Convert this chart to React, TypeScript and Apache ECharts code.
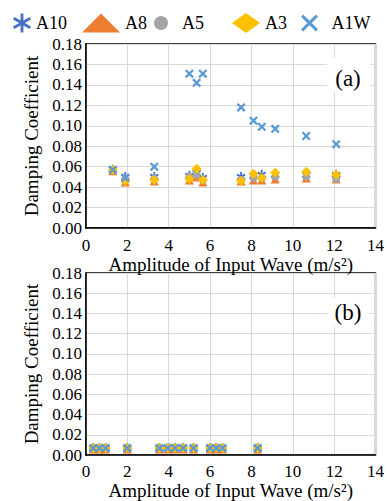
import React, { useEffect, useRef } from "react";
import * as echarts from "echarts";

// ---- data ----
const seriesNames = ["A10", "A8", "A5", "A3", "A1W"];
const seriesColors = ["#4472C4", "#ED7D31", "#A5A5A5", "#FFC000", "#5B9BD5"];

const topX = [1.3, 1.9, 3.3, 5.0, 5.35, 5.65, 7.5, 8.1, 8.5, 9.15, 10.65, 12.1];
const topA10 = [0.057, 0.05, 0.05, 0.051, 0.054, 0.049, 0.05, 0.051, 0.052, 0.052, 0.052, 0.052];
const topA8 = [0.056, 0.045, 0.046, 0.047, 0.05, 0.045, 0.046, 0.047, 0.047, 0.048, 0.049, 0.048];
const topA5 = [0.057, 0.048, 0.048, 0.05, 0.052, 0.047, 0.047, 0.049, 0.049, 0.05, 0.05, 0.048];
const topA3 = [0.057, 0.046, 0.047, 0.048, 0.058, 0.047, 0.046, 0.053, 0.049, 0.054, 0.055, 0.052];
const topA1W = [0.057, 0.049, 0.06, 0.151, 0.142, 0.151, 0.118, 0.105, 0.099, 0.097, 0.09, 0.082];

const bottomX = [0.35, 0.65, 0.95, 2.0, 3.55, 3.95, 4.3, 4.7, 5.2, 6.0, 6.3, 6.6, 8.3];
const bottomA10 = [0.007, 0.007, 0.007, 0.007, 0.007, 0.007, 0.007, 0.007, 0.007, 0.007, 0.007, 0.007, 0.007];
const bottomA8 = [0.006, 0.006, 0.006, 0.006, 0.006, 0.006, 0.006, 0.006, 0.006, 0.006, 0.006, 0.006, 0.006];
const bottomA5 = [0.007, 0.007, 0.007, 0.007, 0.007, 0.007, 0.007, 0.007, 0.007, 0.007, 0.007, 0.007, 0.007];
const bottomA3 = [0.007, 0.007, 0.007, 0.007, 0.007, 0.007, 0.007, 0.007, 0.007, 0.007, 0.007, 0.007, 0.007];
const bottomA1W = [0.007, 0.007, 0.007, 0.007, 0.007, 0.007, 0.007, 0.007, 0.007, 0.007, 0.007, 0.007, 0.007];

const xMin = 0, xMax = 14, xStep = 2;
const yMin = 0, yMax = 0.18, yStep = 0.02;
const xAxisTitle = "Amplitude of Input Wave (m/s²)";
const yAxisTitle = "Damping Coefficient";
const panelLabels = ["(a)", "(b)"];

// ---- symbol helpers ----
function barsPath(angles: number[], halfLen: number, halfW: number): string {
  let d = "";
  for (const a of angles) {
    const r = (a * Math.PI) / 180;
    const c = Math.cos(r), s = Math.sin(r);
    const pts = [
      [-halfLen, -halfW],
      [halfLen, -halfW],
      [halfLen, halfW],
      [-halfLen, halfW],
    ].map(([x, y]) => `${(50 + x * c - y * s).toFixed(2)} ${(50 + x * s + y * c).toFixed(2)}`);
    d += `M${pts[0]}L${pts[1]}L${pts[2]}L${pts[3]}Z`;
  }
  return "path://" + d;
}

const asteriskSym = barsPath([90, 30, 150], 50, 10);
const crossSym = barsPath([45, 135], 50, 11);
const asteriskLegend = barsPath([90, 30, 150], 50, 7.5);
const crossLegend = barsPath([45, 135], 50, 7.5);

const seriesSymbols: any[] = [asteriskSym, "triangle", "circle", "diamond", crossSym];
const seriesSizes: any[] = [[9, 10], 9, 8, 10, 9];
const legendIcons = [asteriskLegend, "triangle", "circle", "diamond", crossLegend];

const FONT = "Liberation Serif";

export default function App() {
  const ref = useRef<HTMLDivElement>(null);

  useEffect(() => {
    if (!ref.current) return;
    const chart = echarts.init(ref.current, undefined, { renderer: "svg" });

    const grids = [
      { left: 86, top: 44, width: 293, height: 184 },
      { left: 86, top: 273, width: 292, height: 188 },
    ];

    const makeX = (gi: number, margin: number) => ({
      type: "value",
      gridIndex: gi,
      min: xMin,
      max: xMax,
      interval: xStep,
      name: xAxisTitle,
      nameLocation: "middle",
      nameGap: 22,
      nameTextStyle: { fontFamily: FONT, fontSize: 19, color: "#000" },
      axisLine: { show: true, onZero: false, lineStyle: { color: "#000", width: 1.5 } },
      axisTick: { show: false },
      axisLabel: { fontFamily: FONT, fontSize: 17, color: "#000", margin },
      splitLine: { show: true, lineStyle: { color: "#D9D9D9", width: 1 } },
    });

    const makeY = (gi: number) => ({
      type: "value",
      gridIndex: gi,
      min: yMin,
      max: yMax,
      interval: yStep,
      name: yAxisTitle,
      nameLocation: "middle",
      nameGap: 45,
      nameRotate: 90,
      nameTextStyle: { fontFamily: FONT, fontSize: 19, color: "#000" },
      axisLine: { show: true, lineStyle: { color: "#000", width: 1.5 } },
      axisTick: { show: false },
      axisLabel: {
        fontFamily: FONT,
        fontSize: 17,
        color: "#000",
        margin: 4,
        formatter: (v: number) => v.toFixed(2),
      },
      splitLine: { show: true, lineStyle: { color: "#D9D9D9", width: 1 } },
    });

    const topData = [topA10, topA8, topA5, topA3, topA1W];
    const bottomData = [bottomA10, bottomA8, bottomA5, bottomA3, bottomA1W];

    const series: any[] = [];
    [topData, bottomData].forEach((group, gi) => {
      const xs = gi === 0 ? topX : bottomX;
      group.forEach((vals, si) => {
        series.push({
          type: "scatter",
          name: seriesNames[si],
          xAxisIndex: gi,
          yAxisIndex: gi,
          data: xs.map((x, i) => [x, vals[i]]),
          symbol: seriesSymbols[si],
          symbolSize: seriesSizes[si],
          itemStyle: { color: seriesColors[si], opacity: 1 },
          z: 2 + si,
          emphasis: { disabled: true },
        });
      });
    });

    // legend layout: [left, itemWidth, itemHeight]
    const legendLayout = [
      [13, 18, 20],
      [82, 38, 19],
      [154, 32, 14],
      [232, 28, 20],
      [301, 34, 17],
    ];
    const legends = seriesNames.map((n, i) => ({
      left: legendLayout[i][0],
      top: 13,
      padding: 0,
      itemWidth: legendLayout[i][1],
      itemHeight: legendLayout[i][2],
      data: [{ name: n, icon: legendIcons[i] }],
      textStyle: { fontFamily: FONT, fontSize: 18, color: "#000", lineHeight: 20 },
      selectedMode: false,
    }));

    const panelBoxes = [
      { x: 327, y: 58, w: 43, h: 34, cx: 348, cy: 78 },
      { x: 328, y: 298, w: 40, h: 29, cx: 348, cy: 312 },
    ];
    const graphic: any[] = [];
    panelBoxes.forEach((b, i) => {
      graphic.push({
        type: "rect",
        shape: { x: b.x, y: b.y, width: b.w, height: b.h },
        style: { fill: "#fff" },
        z: 10,
      });
      graphic.push({
        type: "text",
        x: b.cx,
        y: b.cy,
        style: {
          text: panelLabels[i],
          fontFamily: FONT,
          fontSize: 23,
          fill: "#000",
          align: "center",
          verticalAlign: "middle",
        },
        z: 11,
      });
    });

    chart.setOption({
      animation: false,
      backgroundColor: "#fff",
      legend: legends,
      grid: grids.map((g) => ({
        ...g,
        show: true,
        borderColor: "#000",
        borderWidth: 1.3,
        backgroundColor: "transparent",
        containLabel: false,
      })),
      xAxis: [makeX(0, 9), makeX(1, 8)],
      yAxis: [makeY(0), makeY(1)],
      series,
      graphic,
    });

    return () => chart.dispose();
  }, []);

  return (
    <div
      ref={ref}
      style={{ position: "fixed", left: 0, top: 0, width: 387, height: 501 }}
    />
  );
}
